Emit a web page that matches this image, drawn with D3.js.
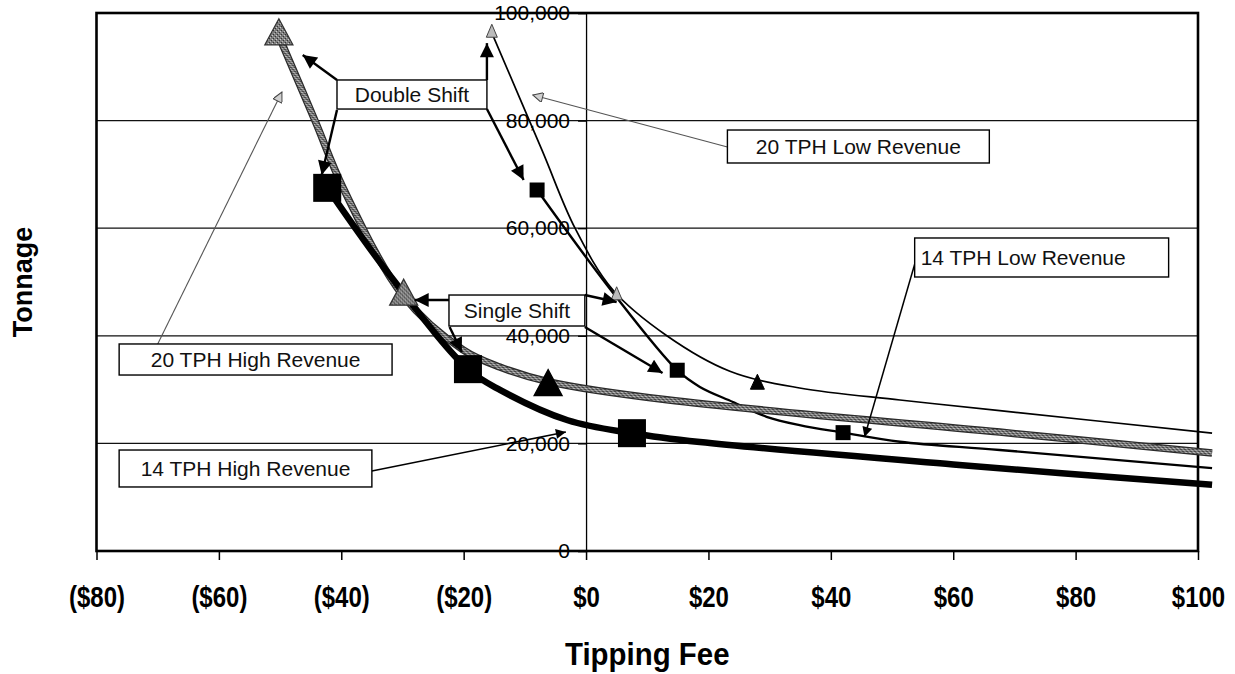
<!DOCTYPE html>
<html>
<head>
<meta charset="utf-8">
<script src="https://cdn.jsdelivr.net/npm/d3@7"></script>
<style>
  body { margin: 0; background: #fff; }
  text { font-family: Arial, "Liberation Sans", sans-serif; }
</style>
</head>
<body>
<div id="chart"></div>
<script>
// values: [tipping fee ($), tonnage]
var curve14High = [[-42.3,67500],[-31.5,50400],[-19.3,33800],[-14,29900],[-3,24300],[7.5,21900],[18.6,20260],[61,16000],[102.3,12300]];
var curve20High = [[-50.2,95700],[-44.3,80000],[-39.7,67500],[-29.8,47300],[-20.1,37400],[-14.1,34200],[-5.9,31400],[13.2,28100],[67.6,22100],[102.3,18200]];
var curve20Low  = [[-15.4,96300],[-7.2,74500],[-1.8,60000],[4.4,48500],[13.2,40000],[23.5,33400],[34.9,30300],[51.3,28070],[67.6,26100],[102.3,21900]];
var curve14Low  = [[-8,67100],[4.4,48000],[14.9,33600],[18.6,30500],[24,27700],[29.5,24950],[34.9,23400],[42,22000],[51.3,20300],[67.6,18770],[102.3,15400]];

var points14High = [[-42.3,67500],[-19.3,33800],[7.5,21900]];
var points20High = [[-50.2,95700],[-29.8,47300],[-6.2,30500]];
var points20Low  = [[-15.4,96300],[5,47500],[28,31000]];
var points14Low  = [[-8,67100],[14.9,33600],[42,22000]];

var xTicks = [-80,-60,-40,-20,0,20,40,60,80,100];
var yTicks = [0,20000,40000,60000,80000,100000];

// callout boxes: [label, x0, x1, yTop, yBottom, align]
var callouts = [
  ["Double Shift",        -40.7, -16.2, 87550, 82150, "middle"],
  ["Single Shift",        -22.4,  -0.2, 47580, 41820, "middle"],
  ["20 TPH Low Revenue",   23.1,  65.9, 78250, 72120, "middle"],
  ["14 TPH Low Revenue",   53.7,  95.2, 58180, 50930, "start"],
  ["20 TPH High Revenue", -76.3, -31.7, 38480, 32710, "middle"],
  ["14 TPH High Revenue", -76.3, -35.0, 18770, 11900, "middle"]
];
// callout arrows: [fromX, fromY, toX, toY, kind]
var pointers = [
  [-40.7,87550,-46.3,92200,"bold"],
  [-40.7,81970,-43.2,69900,"bold"],
  [-16.2,87550,-16.2,94400,"bold"],
  [-16.2,82150,-10.2,68960,"bold"],
  [-22.4,46650,-28.0,46650,"bold"],
  [-0.2,47580,5.0,46280,"bold"],
  [-22.3,41640,-20.3,36990,"bold"],
  [-0.2,41640,12.5,33090,"bold"],
  [23.1,75090,-8.7,84760,"grey"],
  [53.9,54090,45.5,21190,"thin"],
  [-70.0,38480,-49.7,85320,"grey"],
  [-35.0,14870,-3.3,22120,"thin"]
];

var W = 1235, H = 674;
var margin = {top: 13, right: 37, bottom: 123, left: 96.5},
    width = W - margin.left - margin.right,
    height = H - margin.top - margin.bottom;

var svg = d3.select("#chart").append("svg")
    .attr("width", W)
    .attr("height", H);

var defs = svg.append("defs");
var pat = defs.append("pattern").attr("id", "stipple")
    .attr("patternUnits", "userSpaceOnUse").attr("width", 4).attr("height", 4);
pat.append("rect").attr("width", 4).attr("height", 4).attr("fill", "#7c7c7c");
[[0,0,"#1a1a1a"],[2,2,"#1a1a1a"],[1,3,"#e8e8e8"],[3,1,"#cfcfcf"]].forEach(function(p) {
  pat.append("rect").attr("x", p[0]).attr("y", p[1]).attr("width", 1).attr("height", 1).attr("fill", p[2]);
});

function head(id, w, h, fill, stroke) {
  defs.append("marker").attr("id", id)
    .attr("viewBox", "0 0 10 10").attr("refX", 10).attr("refY", 5)
    .attr("markerUnits", "userSpaceOnUse")
    .attr("markerWidth", w).attr("markerHeight", h)
    .attr("orient", "auto")
    .append("path").attr("d", "M0,0L10,5L0,10Z")
    .attr("fill", fill).attr("stroke", stroke || "none").attr("stroke-width", 1);
}
head("hBold", 18, 14, "#000");
head("hThin", 14, 10, "#000");
head("hGrey", 12, 10, "#d0d0d0", "#444");

var g = svg.append("g")
    .attr("transform", "translate(" + margin.left + "," + margin.top + ")");

var x = d3.scaleLinear().domain([-80, 100]).range([0, width]);
var y = d3.scaleLinear().domain([0, 100000]).range([height, 0]);

// gridlines
g.append("g").selectAll("line")
  .data(yTicks.filter(function(d) { return d > 0 && d < 100000; }))
  .enter().append("line")
    .attr("x1", 0).attr("x2", width)
    .attr("y1", d => y(d)).attr("y2", d => y(d))
    .attr("stroke", "#111").attr("stroke-width", 1.2);

// x axis at the bottom
var xAxis = g.append("g")
    .attr("transform", "translate(0," + height + ")")
    .call(d3.axisBottom(x).tickValues(xTicks).tickSize(9).tickPadding(26)
      .tickFormat(d => d < 0 ? "($" + (-d) + ")" : "$" + d));
xAxis.select(".domain").remove();
xAxis.selectAll("line").attr("stroke", "#000").attr("stroke-width", 1.5);
xAxis.selectAll("text")
    .attr("font-size", 30).attr("font-weight", "bold").attr("fill", "#000")
    .attr("transform", "scale(0.8,1)");

// y axis crossing at $0
var yAxis = g.append("g")
    .attr("transform", "translate(" + x(0) + ",0)")
    .call(d3.axisLeft(y).tickValues(yTicks).tickSize(8).tickPadding(8)
      .tickFormat(d3.format(",")));
yAxis.select(".domain").attr("stroke", "#000").attr("stroke-width", 1.3);
yAxis.selectAll("line").attr("stroke", "#000").attr("stroke-width", 1.3);
yAxis.selectAll("text").attr("font-size", 21).attr("fill", "#000");

// plot border
g.append("rect")
    .attr("width", width).attr("height", height)
    .attr("fill", "none").attr("stroke", "#000").attr("stroke-width", 2.6);

var line = d3.line()
    .x(d => x(d[0])).y(d => y(d[1]))
    .curve(d3.curveCatmullRom.alpha(0.5));

g.append("path").datum(curve20Low).attr("d", line)
    .attr("fill", "none").attr("stroke", "#000").attr("stroke-width", 1.7);
g.append("path").datum(curve14Low).attr("d", line)
    .attr("fill", "none").attr("stroke", "#000").attr("stroke-width", 2.4);
g.append("path").datum(curve20High).attr("d", line)
    .attr("fill", "none").attr("stroke", "#2a2a2a").attr("stroke-width", 7.5);
g.append("path").datum(curve20High).attr("d", line)
    .attr("fill", "none").attr("stroke", "url(#stipple)").attr("stroke-width", 5);
g.append("path").datum(curve14High).attr("d", line)
    .attr("fill", "none").attr("stroke", "#000").attr("stroke-width", 6.5);

function tri(w, h) {
  return "M0," + (-2 * h / 3) + "L" + (w / 2) + "," + (h / 3) + "L" + (-w / 2) + "," + (h / 3) + "Z";
}

// triangle markers
g.append("g").selectAll("path")
  .data(points20High).enter().append("path")
    .attr("transform", d => "translate(" + x(d[0]) + "," + y(d[1]) + ")")
    .attr("d", tri(28, 26))
    .attr("fill", (d, i) => i < 2 ? "url(#stipple)" : "#000")
    .attr("stroke", (d, i) => i < 2 ? "#333" : "#000").attr("stroke-width", 1.3);
g.append("g").selectAll("path")
  .data(points20Low).enter().append("path")
    .attr("transform", d => "translate(" + x(d[0]) + "," + y(d[1]) + ")")
    .attr("d", (d, i) => i < 2 ? tri(11, 13) : tri(14, 15))
    .attr("fill", (d, i) => i < 2 ? "#bbb" : "#000")
    .attr("stroke", (d, i) => i < 2 ? "#444" : "#000").attr("stroke-width", 1);

// square markers
g.append("g").selectAll("rect")
  .data(points14High).enter().append("rect")
    .attr("x", d => x(d[0]) - 14).attr("y", d => y(d[1]) - 14)
    .attr("width", 28).attr("height", 28).attr("fill", "#000");
g.append("g").selectAll("rect")
  .data(points14Low).enter().append("rect")
    .attr("x", d => x(d[0]) - 7.5).attr("y", d => y(d[1]) - 7.5)
    .attr("width", 15).attr("height", 15).attr("fill", "#000");

// callout pointers
g.append("g").selectAll("line")
  .data(pointers).enter().append("line")
    .attr("x1", d => x(d[0])).attr("y1", d => y(d[1]))
    .attr("x2", d => x(d[2])).attr("y2", d => y(d[3]))
    .attr("stroke", d => d[4] === "grey" ? "#555" : "#000")
    .attr("stroke-width", d => d[4] === "bold" ? 2.4 : (d[4] === "thin" ? 1.5 : 1.1))
    .attr("marker-end", d => d[4] === "bold" ? "url(#hBold)" : (d[4] === "thin" ? "url(#hThin)" : "url(#hGrey)"));

// callout boxes
var box = g.append("g").selectAll("g")
  .data(callouts).enter().append("g");
box.append("rect")
    .attr("x", d => x(d[1])).attr("y", d => y(d[3]))
    .attr("width", d => x(d[2]) - x(d[1])).attr("height", d => y(d[4]) - y(d[3]))
    .attr("fill", "#fff").attr("stroke", "#000").attr("stroke-width", 1.4);
box.append("text")
    .attr("x", d => d[5] === "start" ? x(d[1]) + 6 : (x(d[1]) + x(d[2])) / 2)
    .attr("y", d => (y(d[3]) + y(d[4])) / 2)
    .attr("dy", "0.36em")
    .attr("text-anchor", d => d[5])
    .attr("font-size", 21)
    .attr("fill", "#111")
    .text(d => d[0]);

// axis titles
svg.append("text")
    .attr("transform", "translate(" + (margin.left + width / 2) + ",665) scale(0.92,1)")
    .attr("text-anchor", "middle")
    .attr("font-size", 32).attr("font-weight", "bold")
    .text("Tipping Fee");
svg.append("text")
    .attr("transform", "translate(32," + (margin.top + height / 2) + ") rotate(-90)")
    .attr("text-anchor", "middle")
    .attr("font-size", 27).attr("font-weight", "bold")
    .text("Tonnage");
</script>
</body>
</html>
